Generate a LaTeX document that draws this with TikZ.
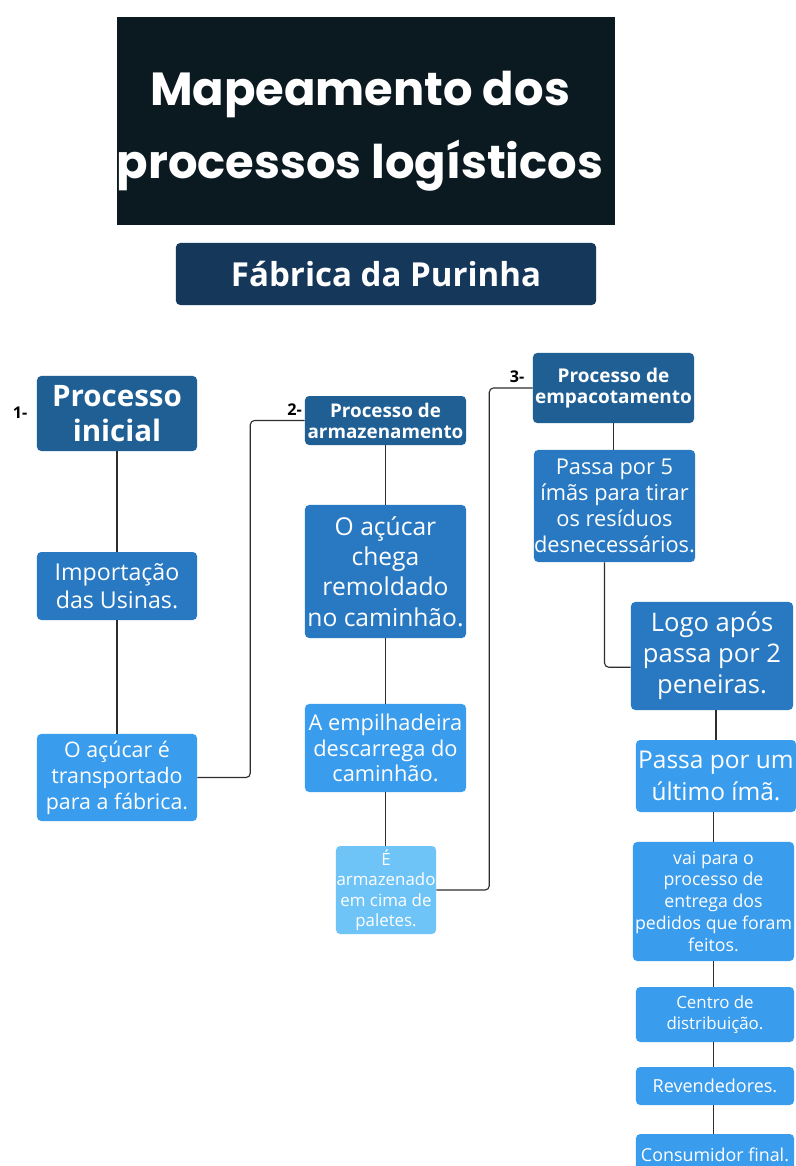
\documentclass[tikz,border=0pt]{standalone}
\usepackage{fontspec}
\setmainfont{Open Sans}
\newfontfamily\titlefont{Poppins}
\definecolor{TitleBg}{RGB}{11,25,33}
\definecolor{SubBg}{RGB}{21,55,90}
\definecolor{DeepBlue}{RGB}{31,95,148}
\definecolor{MidBlue}{RGB}{41,121,194}
\definecolor{SkyBlue}{RGB}{58,156,236}
\definecolor{PaleBlue}{RGB}{110,196,246}
\definecolor{LineGray}{RGB}{45,45,45}
\usetikzlibrary{positioning}

\begin{document}
\begin{tikzpicture}[x=0.025cm, y=-0.025cm,
        box/.style={rounded corners=3pt, text=white, align=center, inner sep=0pt},
        deep/.style={box, fill=DeepBlue, font=\bfseries},
        mid/.style={box, fill=MidBlue},
        sky/.style={box, fill=SkyBlue},
        pale/.style={box, fill=PaleBlue},
        conn/.style={draw=LineGray, line width=0.8pt, rounded corners=3pt},
        num/.style={text=black, inner sep=0pt, font=\bfseries\fontsize{11.5}{13}\selectfont}]
        \useasboundingbox (0,0) rectangle (796,1166);
        \clip (0,0) rectangle (796,1166);
        \fill[white] (0,0) rectangle (796,1166);

        % titulo
        \node[fill=TitleBg, minimum width=12.45cm, minimum height=5.2cm] (titlebox) at (366,121) {};
        \node[text=white, align=center, font=\titlefont\bfseries\fontsize{33}{52}\selectfont] (title) at (360,131) {Mapeamento dos\\processos logísticos};
        \node[fill=SubBg, text=white, rounded corners=3pt, minimum width=10.5cm, minimum height=1.55cm,
              font=\bfseries\fontsize{23.5}{28}\selectfont] (sub) at (386,274) {Fábrica da Purinha};

        % 1 - processo inicial
        \node[deep, minimum width=4cm, minimum height=1.875cm, font=\bfseries\fontsize{21}{25}\selectfont] (p1) at (117,413.5) {Processo\\inicial};
        \node[mid, minimum width=4cm, minimum height=1.7cm, font=\fontsize{16.5}{20}\selectfont] (imp) at (117,586) {Importação\\das Usinas.};
        \node[sky, minimum width=4cm, minimum height=2.175cm, font=\fontsize{15.2}{18.5}\selectfont] (transp) at (117,777.5) {O açúcar é\\transportado\\para a fábrica.};
        \node[num] (n1) at (20,413) {1-};

        % 2 - armazenamento
        \node[deep, minimum width=4.025cm, minimum height=1.225cm, font=\bfseries\fontsize{13.4}{15}\selectfont] (p2) at (385.5,420.5) {Processo de\\armazenamento};
        \node[mid, minimum width=4.025cm, minimum height=3.325cm, font=\fontsize{17.5}{21.5}\selectfont] (chega) at (385.5,571.5) {O açúcar\\chega\\remoldado\\no caminhão.};
        \node[sky, minimum width=4.025cm, minimum height=2.2cm, font=\fontsize{15.5}{18}\selectfont] (empil) at (385.5,748) {A empilhadeira\\descarrega do\\caminhão.};
        \node[pale, minimum width=2.5cm, minimum height=2.2cm, font=\fontsize{12}{14.6}\selectfont] (palete) at (386,890) {É\\armazenado\\em cima de\\paletes.};
        \node[num] (n2) at (294.5,410) {2-};

        % 3 - empacotamento
        \node[deep, minimum width=4.025cm, minimum height=1.75cm, font=\bfseries\fontsize{13.5}{15.5}\selectfont] (p3) at (613.5,388) {Processo de\\empacotamento};
        \node[mid, minimum width=4.025cm, minimum height=2.8cm, font=\fontsize{15.5}{18.5}\selectfont] (imas) at (614.5,506) {Passa por 5\\ímãs para tirar\\os resíduos\\desnecessários.};
        \node[mid, minimum width=4.05cm, minimum height=2.7cm, font=\fontsize{18.2}{22}\selectfont] (peneira) at (712,656) {Logo após\\passa por 2\\peneiras.};
        \node[sky, minimum width=4cm, minimum height=1.8cm, font=\fontsize{17.4}{22.7}\selectfont] (ultimo) at (716,776) {Passa por um\\último ímã.};
        \node[sky, minimum width=4.025cm, minimum height=2.975cm, font=\fontsize{12.6}{15.6}\selectfont] (entrega) at (713.5,901.5) {vai para o\\processo de\\entrega dos\\pedidos que foram\\feitos.};
        \node[sky, minimum width=3.95cm, minimum height=1.375cm, font=\fontsize{12}{15}\selectfont] (centro) at (715,1014.5) {Centro de\\distribuição.};
        \node[sky, minimum width=3.95cm, minimum height=0.95cm, font=\fontsize{12.8}{15}\selectfont] (revend) at (715,1086) {Revendedores.};
        \node[sky, minimum width=3.95cm, minimum height=1.05cm, font=\fontsize{12.7}{14}\selectfont] (consum) at (715,1155) {Consumidor final.};
        \node[num] (n3) at (517,377) {3-};

        % ligacoes
        \draw[conn] (p1) -- (imp);
        \draw[conn] (imp) -- (transp);
        \draw[conn] (transp.east) -- ++(53,0) |- (p2.west);
        \draw[conn] (p2) -- (chega);
        \draw[conn] (chega) -- (empil);
        \draw[conn] (empil.south) -- (empil.south |- palete.north);
        \draw[conn] (palete.east) -- ++(53,0) |- (p3.west);
        \draw[conn] (p3) -- (p3.south |- imas.north);
        \draw[conn] ([xshift=-0.25cm]imas.south) |- ([yshift=-0.28cm]peneira.west);
        \draw[conn] (ultimo.north |- peneira.south) -- (ultimo.north);
        \draw[conn] (ultimo.south -| entrega.north) -- (entrega.north);
        \draw[conn] (entrega) -- (entrega.south |- centro.north);
        \draw[conn] (centro.south -| entrega.south) -- (entrega.south |- revend.north);
        \draw[conn] (revend.south -| entrega.south) -- (entrega.south |- consum.north);
    \end{tikzpicture}
\end{document}
